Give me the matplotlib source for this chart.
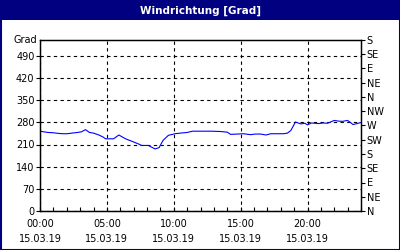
import matplotlib
matplotlib.use("Agg")
import matplotlib.pyplot as plt
from matplotlib.patches import Rectangle

# wind direction over the day (hours, degrees)
hours = [0.0, 0.3, 0.6, 1.0, 1.4, 1.7, 2.0, 2.4, 2.8, 3.1, 3.4, 3.7, 4.0, 4.4,
         4.7, 4.9, 5.2, 5.5, 5.9, 6.1, 6.4, 6.7, 7.0, 7.35, 7.6, 8.1, 8.6,
         8.9, 9.2, 9.6, 10.1, 10.5, 11.0, 11.4, 12.0, 12.5, 12.9, 13.5, 14.0,
         14.25, 14.8, 15.2, 15.75, 16.1, 16.5, 16.9, 17.25, 17.7, 18.2, 18.5,
         18.75, 19.1, 19.5, 19.8, 20.0, 20.3, 20.8, 21.2, 21.5, 22.0, 22.3,
         22.6, 23.0, 23.2, 23.4, 23.7, 23.95]
wind = [252, 250, 248, 247, 245, 244, 244, 246, 248, 250, 257, 248, 246, 240,
        234, 228, 228, 228, 240, 235, 228, 223, 218, 212, 207, 207, 196,
        200, 223, 239, 244, 246, 248, 252, 252, 252, 252, 251, 249,
        242, 243, 244, 241, 243, 243, 240, 244, 244, 244, 246,
        254, 281, 275, 277, 272, 278, 276, 278, 277, 286, 284,
        283, 286, 280, 273, 276, 279]

left_ticks = [0, 70, 140, 210, 280, 350, 420, 490]
right_ticks = [0, 45, 90, 135, 180, 225, 270, 315, 360, 405, 450, 495, 540]
right_labels = ["N", "NE", "E", "SE", "S", "SW", "W", "NW", "N", "NE", "E", "SE", "S"]
x_major = [0, 5, 10, 15, 20]
x_labels = ["00:00\n15.03.19", "05:00\n15.03.19", "10:00\n15.03.19",
            "15:00\n15.03.19", "20:00\n15.03.19"]

navy = "#000080"
fs = 7

fig = plt.figure(figsize=(4, 2.5), dpi=100)
fig.patch.set_facecolor("white")

# title bar and frame
fig.patches.append(Rectangle((0, 1 - 20 / 250), 1, 20 / 250, transform=fig.transFigure,
                             facecolor=navy, edgecolor="none", zorder=0))
fig.patches.append(Rectangle((0.5 / 400, 0.5 / 250), 1 - 1 / 400, 1 - 1 / 250,
                             transform=fig.transFigure, facecolor="none",
                             edgecolor=navy, linewidth=1.5, zorder=5))
fig.text(0.5, 1 - 10.5 / 250, "Windrichtung [Grad]", color="white", fontsize=7.5,
         fontweight="bold", ha="center", va="center")

ax = fig.add_axes([40 / 400, 39 / 250, 321 / 400, 171 / 250])
ax.plot(hours, wind, color="#0000ff", linewidth=0.8)

ax.set_xlim(0, 24)
ax.set_ylim(0, 540)

ax.set_yticks(left_ticks)
ax.set_yticklabels([str(v) for v in left_ticks], fontsize=fs)
ax.tick_params(axis="y", direction="out", length=3, width=0.8, pad=1)

ax.set_xticks(x_major)
ax.set_xticklabels(x_labels, fontsize=fs, linespacing=1.6)
ax.set_xticks(range(0, 25), minor=True)
ax.tick_params(axis="x", which="both", direction="in", length=3, width=0.8, pad=6)

ax.grid(True, color="black", linestyle=(0, (3, 3)), linewidth=0.8)

ax.text(-0.01, 540, "Grad", fontsize=fs, ha="right", va="center",
        transform=ax.get_yaxis_transform())

ax2 = ax.twinx()
ax2.set_ylim(0, 540)
ax2.set_yticks(right_ticks)
ax2.set_yticklabels(right_labels, fontsize=fs)
ax2.tick_params(axis="y", direction="out", length=3, width=0.8, pad=1)

for a in (ax, ax2):
    for s in a.spines.values():
        s.set_linewidth(0.9)
        s.set_color("black")

fig.savefig("out.png", dpi=100)
